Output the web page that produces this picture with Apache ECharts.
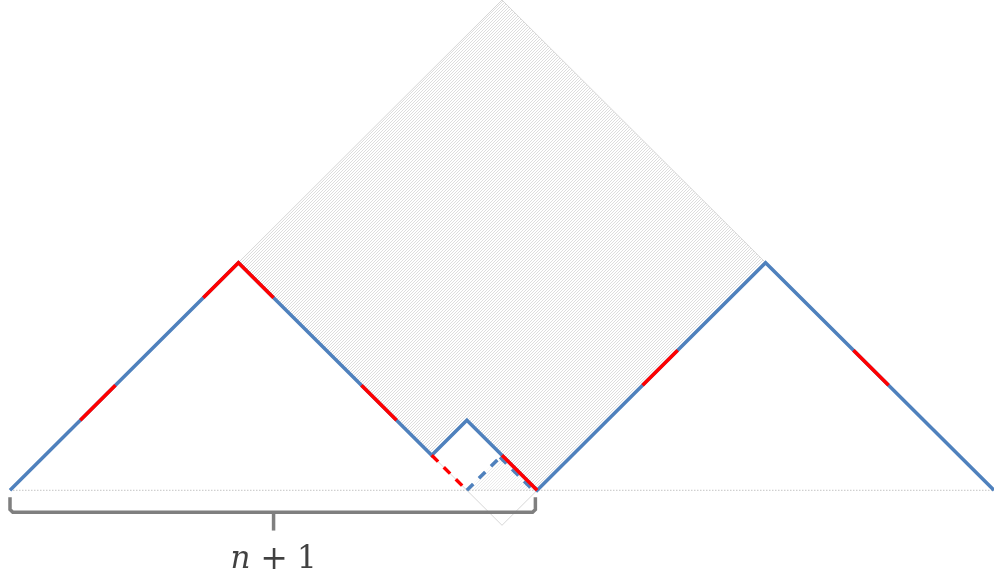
<!DOCTYPE html>
<html>
<head>
<meta charset="utf-8">
<script src="https://cdn.jsdelivr.net/npm/echarts@6/dist/echarts.min.js"></script>
<style>
html,body{margin:0;padding:0;background:#fff;}
#chart{width:994px;height:577px;}
</style>
</head>
<body>
<div id="chart"></div>
<script>
// Lattice path (x, height) in unit steps
const pathPoints = [[0,0],[6.5,6.5],[12,1],[13,2],[15,0],[21.5,6.5],[28,0]];
// Red highlighted solid pieces of the path
const redSegments = [
  [[2,2],[3,3]],
  [[5.5,5.5],[6.5,6.5],[7.5,5.5]],
  [[10,3],[11,2]],
  [[14,1],[15,0]],
  [[18,3],[19,4]],
  [[24,4],[25,3]]
];
// Dashed alternative steps inside the small square
const redDashed = [[12,1],[13,0]];
const blueDashed = [[13,0],[14,1]];
const blueDashedShadow = [[13.94,0.94],[14.94,-0.06]];
// Grey diamond and its hatched part above the path
const diamond = [[6.5,6.5],[14,14],[21.5,6.5],[14,-1],[6.5,6.5]];
const hatchRegion = [[6.5,6.5],[14,14],[21.5,6.5],[15,0],[14,1],[13,2],[12,1]];
const hatchLight = [[13,0],[14,1],[15,0]];
// Baseline and brace
const baseline = [[0,0],[28,0]];
const brace = [[0,-0.2],[0,-0.55],[0.08,-0.63],[14.87,-0.63],[14.95,-0.55],[14.95,-0.2]];
const braceTick = [[7.5,-0.63],[7.5,-1.15]];
const braceLabelPos = [7.5,-2.0];
const braceLabel = ['n', '+', '1'];

function makeHatch(alpha){
  const c = document.createElement('canvas');
  c.width = 3; c.height = 3;
  const g = c.getContext('2d');
  g.fillStyle = 'rgba(175,175,175,' + alpha + ')';
  for (let i = 0; i < 3; i++) g.fillRect(i, 2 - i, 1, 1);
  return c;
}
const hatchCanvas = makeHatch(0.42);
const hatchCanvasLight = makeHatch(0.25);

const chart = echarts.init(document.getElementById('chart'));
const polySeries = (poly, img) => ({
  type: 'custom',
  coordinateSystem: 'cartesian2d',
  clip: false,
  silent: true,
  z: 1,
  data: [0],
  renderItem: function (params, api) {
    return {
      type: 'polygon',
      shape: { points: poly.map(p => api.coord(p)) },
      style: { fill: { image: img, repeat: 'repeat' }, stroke: null }
    };
  }
});
const lineSeries = (coords, color, width, type, z) => ({
  type: 'line',
  data: coords,
  showSymbol: false,
  symbol: 'none',
  silent: true,
  animation: false,
  z: z,
  lineStyle: { color: color, width: width, type: type, cap: 'butt', join: 'miter' }
});

const series = [
  polySeries(hatchRegion, hatchCanvas),
  polySeries(hatchLight, hatchCanvasLight),
  lineSeries(diamond, '#d6d6d6', 1, 'solid', 2),
  lineSeries(baseline, '#c4c4c4', 1, [1.5, 1.5], 2),
  lineSeries(pathPoints, '#4f81bd', 3.5, 'solid', 5),
  lineSeries(blueDashed, '#4f81bd', 3.5, [9, 8], 5),
  lineSeries(blueDashedShadow, '#4f81bd', 3, [9, 8], 4),
  lineSeries(redDashed, '#ff0000', 3.5, [9, 8], 5),
  lineSeries(brace, '#7f7f7f', 3.5, 'solid', 5),
  lineSeries(braceTick, '#7f7f7f', 3.5, 'solid', 5)
];
redSegments.forEach(s => series.push(lineSeries(s, '#ff0000', 3.5, 'solid', 6)));
series.push({
  type: 'scatter',
  data: [braceLabelPos],
  symbolSize: 0,
  silent: true,
  label: {
    show: true,
    position: 'inside',
    formatter: '{n|' + braceLabel[0] + '}{o|' + braceLabel[1] + '}{d|' + braceLabel[2] + '}',
    rich: {
      n: { fontFamily: 'DejaVu Serif', fontStyle: 'italic', fontSize: 31, color: '#111' },
      o: { fontFamily: 'DejaVu Serif', fontSize: 33, color: '#111', padding: [0, 9, 0, 10] },
      d: { fontFamily: 'DejaVu Serif', fontSize: 31, color: '#111' }
    }
  }
});

chart.setOption({
  animation: false,
  grid: { left: 10, right: 0, top: -2, bottom: 0 },
  xAxis: { type: 'value', min: 0, max: 28, show: false },
  yAxis: { type: 'value', min: -2.476, max: 14, show: false },
  series: series
});
</script>
</body>
</html>
